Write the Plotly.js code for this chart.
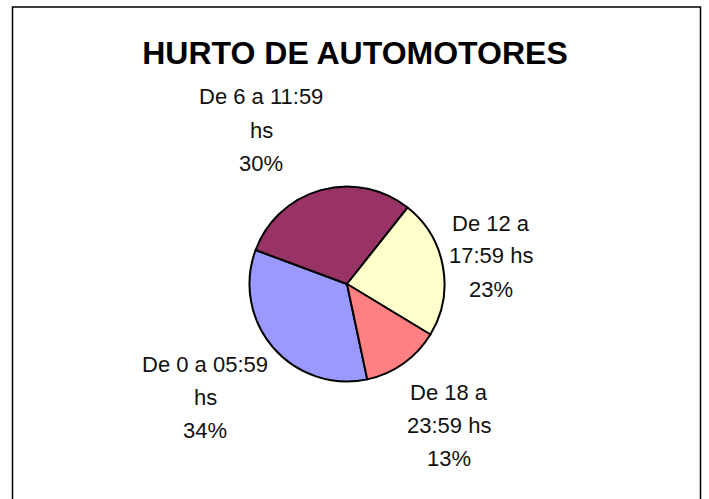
<!DOCTYPE html>
<html>
<head>
<meta charset="utf-8">
<script src="https://cdn.plot.ly/plotly-3.0.1.min.js"></script>
<style>html,body{margin:0;padding:0;background:#fff;}#chart{width:709px;height:499px;}</style>
</head>
<body>
<div id="chart"></div>
<script>
// Data
var categories = ["De 0 a 05:59 hs", "De 6 a 11:59 hs", "De 12 a 17:59 hs", "De 18 a 23:59 hs"];
var labelText = ["De 0 a 05:59<br>hs", "De 6 a 11:59<br>hs", "De 12 a<br>17:59 hs", "De 18 a<br>23:59 hs"];
var values = [34, 30, 23, 13];
var colors = ["#9999FF", "#993366", "#FFFFCC", "#FF8080"];
var titleText = "HURTO DE AUTOMOTORES";

var W = 709, H = 499;
// label block centers in pixels (layout only)
var labelPos = [[205, 397], [261, 130], [491, 256], [449, 425]];
var lineGap = 33;

var total = values.reduce(function(a, b) { return a + b; }, 0);
var labelFont = {family: "Liberation Sans, Arial, sans-serif", size: 22, color: "#111"};

var annotations = [];
categories.forEach(function(c, i) {
  var pct = Math.round(values[i] / total * 100);
  var lines = labelText[i].split("<br>").concat([pct + "%"]);
  lines.forEach(function(line, j) {
    var py = labelPos[i][1] + (j - (lines.length - 1) / 2) * lineGap;
    annotations.push({
      xref: "paper", yref: "paper",
      x: labelPos[i][0] / W, y: 1 - py / H,
      xanchor: "center", yanchor: "middle",
      text: line, showarrow: false, align: "center",
      font: labelFont
    });
  });
});

var cx = 347, cy = 284, r = 97.5;
var trace = {
  type: "pie",
  labels: categories,
  values: values,
  sort: false,
  direction: "clockwise",
  rotation: 168,
  textinfo: "none",
  hoverinfo: "none",
  marker: {colors: colors, line: {color: "#000", width: 2}},
  domain: {x: [(cx - r) / W, (cx + r) / W], y: [1 - (cy + r) / H, 1 - (cy - r) / H]},
  showlegend: false
};

var layout = {
  width: W, height: H,
  margin: {l: 0, r: 0, t: 0, b: 0},
  paper_bgcolor: "#fff",
  showlegend: false,
  title: {
    text: "<b>" + titleText + "</b>",
    x: 355 / W, y: 1 - 53 / H, xanchor: "center", yanchor: "middle",
    xref: "paper", yref: "paper",
    font: {family: "Liberation Sans, Arial, sans-serif", size: 32, color: "#000"}
  },
  annotations: annotations,
  shapes: [{
    type: "rect", xref: "paper", yref: "paper",
    x0: 12.5 / W, x1: 700.5 / W, y0: -0.02, y1: 1 - 7 / H,
    line: {color: "#000", width: 1.5}, fillcolor: "rgba(0,0,0,0)"
  }]
};

Plotly.newPlot("chart", [trace], layout, {staticPlot: true, displayModeBar: false});
</script>
</body>
</html>
